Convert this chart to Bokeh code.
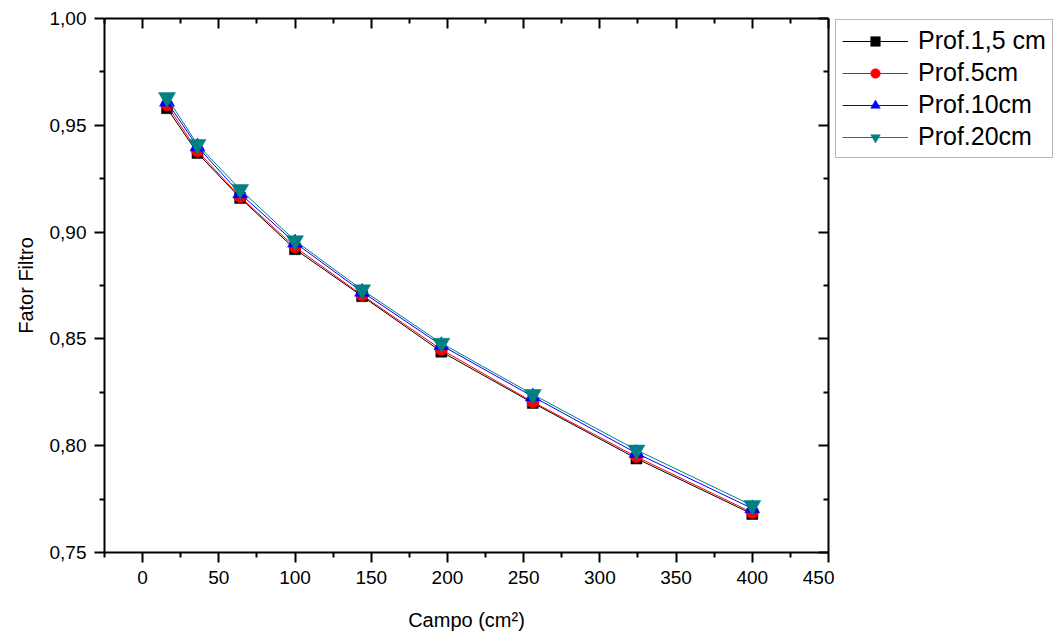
from bokeh.plotting import figure
from bokeh.layouts import row
from bokeh.models import (LinearAxis, FixedTicker, CustomJSTickFormatter, Range1d,
                          Legend, LegendItem)
from bokeh.embed import file_html
from bokeh.resources import INLINE

# ---- data ----
campo = [16, 36, 64, 100, 144, 196, 256, 324, 400]
prof_1_5 = [0.958, 0.937, 0.916, 0.892, 0.870, 0.844, 0.820, 0.794, 0.768]
prof_5 = [0.9595, 0.938, 0.9165, 0.893, 0.8705, 0.845, 0.8205, 0.7948, 0.7687]
prof_10 = [0.961, 0.940, 0.918, 0.895, 0.872, 0.847, 0.823, 0.7965, 0.7706]
prof_20 = [0.963, 0.941, 0.920, 0.896, 0.873, 0.848, 0.824, 0.798, 0.772]
labels = ["Prof.1,5 cm", "Prof.5cm", "Prof.10cm", "Prof.20cm"]
x_ticks = [0, 50, 100, 150, 200, 250, 300, 350, 400, 450]
x_minor = [-25, 25, 75, 125, 175, 225, 275, 325, 375, 425]
y_ticks = [0.75, 0.80, 0.85, 0.90, 0.95, 1.00]
y_minor = [0.775, 0.825, 0.875, 0.925, 0.975]

FONT = "Liberation Sans"

p = figure(frame_width=724, frame_height=534, output_backend="svg", toolbar_location=None,
           x_range=Range1d(-25, 450), y_range=Range1d(0.75, 1.00),
           x_axis_location=None, y_axis_location=None,
           min_border_left=104, min_border_top=18, min_border_bottom=84,
           min_border_right=6)
p.grid.visible = False
p.outline_line_color = None
p.background_fill_color = "white"
p.border_fill_color = "white"

xt = FixedTicker(ticks=x_ticks, minor_ticks=x_minor)
yt = FixedTicker(ticks=y_ticks, minor_ticks=y_minor)
yfmt = CustomJSTickFormatter(code="return tick.toFixed(2).replace('.', ',');")
blank = CustomJSTickFormatter(code="return '';")


def style(ax, outward):
    ax.axis_line_width = 2
    ax.major_tick_line_width = 2
    ax.minor_tick_line_width = 2
    ax.axis_line_color = "black"
    ax.major_tick_line_color = "black"
    ax.minor_tick_line_color = "black"
    if outward:
        ax.major_tick_out = 10
        ax.major_tick_in = 0
        ax.minor_tick_out = 5
        ax.minor_tick_in = 0
        ax.major_label_text_font = FONT
        ax.major_label_text_font_size = "19px"
        ax.major_label_text_color = "black"
        ax.axis_label_text_font = FONT
        ax.axis_label_text_font_size = "20px"
        ax.axis_label_text_font_style = "normal"
        ax.axis_label_text_color = "black"
    else:
        ax.major_tick_out = 0
        ax.major_tick_in = 10
        ax.minor_tick_out = 0
        ax.minor_tick_in = 5
        ax.major_label_text_font_size = "0px"
        ax.formatter = blank


xb = LinearAxis(ticker=xt, axis_label="Campo (cm²)")
style(xb, True)
xb.major_label_standoff = 8
xb.axis_label_standoff = 22
p.add_layout(xb, "below")

yl = LinearAxis(ticker=yt, formatter=yfmt, axis_label="Fator Filtro")
style(yl, True)
yl.major_label_standoff = 8
yl.axis_label_standoff = 10
p.add_layout(yl, "left")

xa = LinearAxis(ticker=xt)
style(xa, False)
p.add_layout(xa, "above")

yr = LinearAxis(ticker=yt)
style(yr, False)
p.add_layout(yr, "right")

series = [prof_1_5, prof_5, prof_10, prof_20]
colors = ["black", "red", "blue", "#008080"]
markers = ["square", "circle", "triangle", "inverted_triangle"]
sizes = [11, 12, 15, 17]

for ys, c, m, s in zip(series, colors, markers, sizes):
    p.line(campo, ys, line_color=c, line_width=1)
    p.scatter(campo, ys, marker=m, size=s, fill_color=c, line_color=c, line_width=0.5)

# ---- legend panel (separate figure to the right of the frame) ----
# same series are drawn here, but outside this panel's visible range,
# so only their legend entries show.
lg = figure(width=221, height=260, output_backend="svg", toolbar_location=None,
            x_range=Range1d(1000, 1001), y_range=Range1d(1000, 1001),
            x_axis_location=None, y_axis_location=None,
            min_border_left=0, min_border_right=0, min_border_top=17,
            min_border_bottom=0)
lg.grid.visible = False
lg.outline_line_color = None
lg.background_fill_color = "white"
lg.border_fill_color = "white"

items = []
for ys, c, m, s, lab in zip(series, colors, markers, sizes, labels):
    ln = lg.line(campo, ys, line_color=c, line_width=1)
    sc = lg.scatter(campo, ys, marker=m, size=s, fill_color=c, line_color=c, line_width=0.5)
    items.append(LegendItem(label=lab, renderers=[ln, sc]))

legend = Legend(items=items, location="top_left")
legend.label_text_font = FONT
legend.label_text_font_size = "25px"
legend.label_text_color = "black"
legend.glyph_width = 66
legend.glyph_height = 24
legend.label_height = 24
legend.label_standoff = 10
legend.spacing = 3
legend.padding = 6
legend.margin = 1
legend.border_line_color = "#707070"
legend.border_line_width = 1.5
legend.background_fill_color = "white"
lg.add_layout(legend, "center")

layout = row(p, lg)
open("out.html", "w").write(file_html(layout, INLINE))
